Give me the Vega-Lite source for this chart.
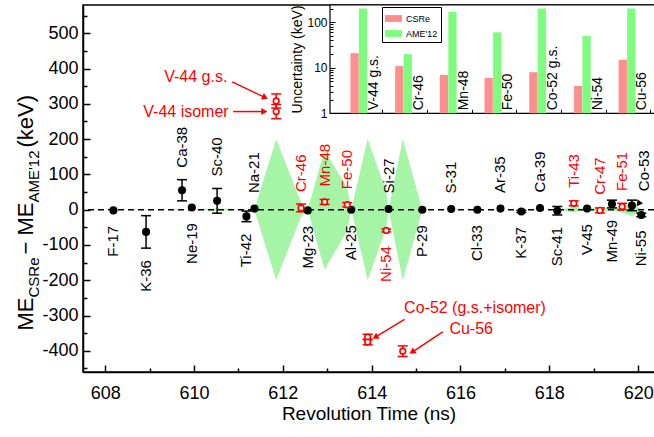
{
  "$schema": "https://vega.github.io/schema/vega-lite/v6.json",
  "width": 571,
  "height": 367,
  "autosize": {"type": "none"},
  "padding": {"left": 83, "top": 5, "right": 0, "bottom": 65},
  "background": "white",
  "config": {
    "font": "Liberation Sans",
    "view": {"stroke": null},
    "axis": {"labelFont": "Liberation Sans", "titleFont": "Liberation Sans", "labelColor": "black", "titleColor": "black", "domainColor": "black", "tickColor": "black", "grid": false, "titleFontWeight": "normal"}
  },
  "datasets": {
    "pts": [
      {"name": "F-17", "t": 608.185, "d": -2, "e": 0, "src": "old", "side": "below"},
      {"name": "K-36", "t": 608.92, "d": -63, "e": 46, "src": "old", "side": "below"},
      {"name": "Ca-38", "t": 609.73, "d": 55, "e": 30, "src": "old", "side": "above"},
      {"name": "Ne-19", "t": 609.95, "d": 6, "e": 0, "src": "old", "side": "below"},
      {"name": "Sc-40", "t": 610.52, "d": 25, "e": 35, "src": "old", "side": "above"},
      {"name": "Ti-42", "t": 611.18, "d": -19, "e": 15, "src": "old", "side": "below"},
      {"name": "Na-21", "t": 611.36, "d": 3, "e": 0, "src": "old", "side": "above"},
      {"name": "V-44 g.s.", "t": 611.85, "d": 308, "e": 20, "src": "new", "side": "none"},
      {"name": "V-44 isomer", "t": 611.85, "d": 278, "e": 20, "src": "new", "side": "none"},
      {"name": "Cr-46", "t": 612.41, "d": 5, "e": 11, "src": "new", "side": "above"},
      {"name": "Mg-23", "t": 612.56, "d": -2, "e": 0, "src": "old", "side": "below"},
      {"name": "Mn-48", "t": 612.94, "d": 22, "e": 7, "src": "new", "side": "above"},
      {"name": "Fe-50", "t": 613.45, "d": 14, "e": 6, "src": "new", "side": "above"},
      {"name": "Al-25", "t": 613.54, "d": 0, "e": 0, "src": "old", "side": "below"},
      {"name": "Co-52 g.s.", "t": 613.91, "d": -361, "e": 8, "src": "new", "side": "none"},
      {"name": "Co-52 isomer", "t": 613.91, "d": -375, "e": 8, "src": "new", "side": "none"},
      {"name": "Ni-54", "t": 614.33, "d": -59, "e": 4, "src": "new", "side": "below"},
      {"name": "Si-27", "t": 614.38, "d": 2, "e": 0, "src": "old", "side": "above"},
      {"name": "Cu-56", "t": 614.70, "d": -401, "e": 15, "src": "new", "side": "none"},
      {"name": "P-29", "t": 615.14, "d": 0, "e": 0, "src": "old", "side": "below"},
      {"name": "S-31", "t": 615.79, "d": 2, "e": 0, "src": "old", "side": "above"},
      {"name": "Cl-33", "t": 616.38, "d": 0, "e": 0, "src": "old", "side": "below"},
      {"name": "Ar-35", "t": 616.90, "d": 3, "e": 0, "src": "old", "side": "above"},
      {"name": "K-37", "t": 617.37, "d": -5, "e": 3, "src": "old", "side": "below"},
      {"name": "Ca-39", "t": 617.79, "d": 5, "e": 0, "src": "old", "side": "above"},
      {"name": "Sc-41", "t": 618.18, "d": -3, "e": 12, "src": "old", "side": "below"},
      {"name": "Ti-43", "t": 618.55, "d": 18, "e": 7, "src": "new", "side": "above"},
      {"name": "V-45", "t": 618.85, "d": 3, "e": 0, "src": "old", "side": "below"},
      {"name": "Cr-47", "t": 619.14, "d": -2, "e": 7, "src": "new", "side": "above"},
      {"name": "Mn-49", "t": 619.41, "d": 16, "e": 11, "src": "old", "side": "below"},
      {"name": "Fe-51", "t": 619.64, "d": 9, "e": 9, "src": "new", "side": "above"},
      {"name": "Co-53", "t": 619.86, "d": 12, "e": 15, "src": "old", "side": "right"},
      {"name": "Ni-55", "t": 620.07, "d": -15, "e": 5, "src": "old", "side": "below"}
    ],
    "ame": [
      {"name": "F-17", "t": 608.185, "s": 0.3},
      {"name": "K-36", "t": 608.92, "s": 0.4},
      {"name": "Ca-38", "t": 609.73, "s": 0.2},
      {"name": "Ne-19", "t": 609.95, "s": 0.2},
      {"name": "Sc-40", "t": 610.52, "s": 3},
      {"name": "Ti-42", "t": 611.18, "s": 0.3},
      {"name": "Na-21", "t": 611.36, "s": 0.3},
      {"name": "V-44", "t": 611.85, "s": 200},
      {"name": "Cr-46", "t": 612.41, "s": 20},
      {"name": "Mg-23", "t": 612.56, "s": 0.1},
      {"name": "Mn-48", "t": 612.94, "s": 170},
      {"name": "Fe-50", "t": 613.45, "s": 60},
      {"name": "Al-25", "t": 613.54, "s": 0.1},
      {"name": "Co-52", "t": 613.91, "s": 200},
      {"name": "Ni-54", "t": 614.33, "s": 50},
      {"name": "Si-27", "t": 614.38, "s": 0.1},
      {"name": "Cu-56", "t": 614.70, "s": 200},
      {"name": "P-29", "t": 615.14, "s": 0.4},
      {"name": "S-31", "t": 615.79, "s": 0.2},
      {"name": "Cl-33", "t": 616.38, "s": 0.4},
      {"name": "Ar-35", "t": 616.90, "s": 0.1},
      {"name": "K-37", "t": 617.37, "s": 0.1},
      {"name": "Ca-39", "t": 617.79, "s": 0.2},
      {"name": "Sc-41", "t": 618.18, "s": 0.1},
      {"name": "Ti-43", "t": 618.55, "s": 7},
      {"name": "V-45", "t": 618.85, "s": 1},
      {"name": "Cr-47", "t": 619.14, "s": 7},
      {"name": "Mn-49", "t": 619.41, "s": 2.4},
      {"name": "Fe-51", "t": 619.64, "s": 9},
      {"name": "Co-53", "t": 619.86, "s": 18},
      {"name": "Ni-55", "t": 620.07, "s": 0.7}
    ],
    "notes": [
      {"note": "V-44 g.s.", "x": 610.75, "y": 376},
      {"note": "V-44 isomer", "x": 610.78, "y": 278},
      {"note": "Co-52 (g.s.+isomer)", "x": 614.73, "y": -279},
      {"note": "Cu-56", "x": 615.75, "y": -339}
    ],
    "arrows": [
      {"id": "gs", "x": 610.86, "y": 362, "x2": 611.58, "y2": 319},
      {"id": "iso", "x": 610.88, "y": 278, "x2": 611.56, "y2": 278},
      {"id": "co52", "x": 614.74, "y": -311, "x2": 614.10, "y2": -360},
      {"id": "cu56", "x": 615.60, "y": -346, "x2": 614.93, "y2": -402},
      {"id": "co53", "x": 620.16, "y": 42, "x2": 620.02, "y2": 19}
    ],
    "unc": [
      {"nuc": "V-44 g.s.", "i": 0, "src": "CSRe", "v": 21},
      {"nuc": "V-44 g.s.", "i": 0, "src": "AME'12", "v": 200},
      {"nuc": "Cr-46", "i": 1, "src": "CSRe", "v": 11},
      {"nuc": "Cr-46", "i": 1, "src": "AME'12", "v": 20},
      {"nuc": "Mn-48", "i": 2, "src": "CSRe", "v": 7},
      {"nuc": "Mn-48", "i": 2, "src": "AME'12", "v": 170},
      {"nuc": "Fe-50", "i": 3, "src": "CSRe", "v": 6},
      {"nuc": "Fe-50", "i": 3, "src": "AME'12", "v": 60},
      {"nuc": "Co-52 g.s.", "i": 4, "src": "CSRe", "v": 8},
      {"nuc": "Co-52 g.s.", "i": 4, "src": "AME'12", "v": 200},
      {"nuc": "Ni-54", "i": 5, "src": "CSRe", "v": 4},
      {"nuc": "Ni-54", "i": 5, "src": "AME'12", "v": 50},
      {"nuc": "Cu-56", "i": 6, "src": "CSRe", "v": 15},
      {"nuc": "Cu-56", "i": 6, "src": "AME'12", "v": 200}
    ]
  },
  "layer": [
    {
      "layer": [
        {
          "data": {"name": "ame"},
          "transform": [{"calculate": "-datum.s", "as": "lo"}],
          "mark": {"type": "area", "color": "#a6f5a6", "opacity": 1},
          "encoding": {
            "x": {"field": "t", "type": "quantitative", "scale": {"domain": [607.5, 620.357], "nice": false, "zero": false},
              "axis": {"orient": "bottom", "title": "Revolution Time (ns)", "values": [608, 609, 610, 611, 612, 613, 614, 615, 616, 617, 618, 619, 620],
                "labelExpr": "datum.value % 2 === 0 ? datum.label : ''",
                "tickSize": {"condition": {"test": "datum.value % 2 === 0", "value": -7}, "value": -4},
                "tickWidth": 1.5, "domainWidth": 1.5, "labelFontSize": 18, "labelPadding": 19, "labelFlush": false, "labelOverlap": false,
                "titleFontSize": 19, "titleY": 47, "titleBaseline": "alphabetic"}},
            "y": {"field": "lo", "type": "quantitative", "scale": {"domain": [-460, 580], "nice": false, "zero": false},
              "axis": {"orient": "left", "values": [-450, -400, -350, -300, -250, -200, -150, -100, -50, 0, 50, 100, 150, 200, 250, 300, 350, 400, 450, 500, 550],
                "labelExpr": "datum.value % 100 === 0 ? '' + datum.value : ''",
                "tickSize": {"condition": {"test": "datum.value % 100 === 0", "value": -7}, "value": -4},
                "tickWidth": 1.5, "domainWidth": 1.5, "labelFontSize": 18, "labelPadding": 12, "labelFlush": false, "labelOverlap": false,
                "title": "ME", "titleFontSize": 22, "titleX": -51, "titleY": 325, "titleAngle": 270, "titleAlign": "left", "titleBaseline": "alphabetic"}},
            "y2": {"field": "s"}
          }
        },
        {
          "data": {"values": [{}]},
          "mark": {"type": "rect", "fill": null, "fillOpacity": 0, "stroke": "black", "strokeWidth": 1.5},
          "encoding": {
            "x": {"datum": 607.5, "type": "quantitative"},
            "x2": {"datum": 621},
            "y": {"datum": -460, "type": "quantitative", "axis": null},
            "y2": {"datum": 580}
          }
        },
        {
          "data": {"values": [{}]},
          "mark": {"type": "rule", "strokeDash": [6, 4], "strokeWidth": 1.5, "color": "black"},
          "encoding": {"y": {"datum": 0, "type": "quantitative", "axis": null}}
        },
        {
          "data": {"name": "pts"},
          "transform": [{"filter": "datum.e > 0"}, {"calculate": "datum.d - datum.e", "as": "lo"}, {"calculate": "datum.d + datum.e", "as": "hi"}],
          "mark": {"type": "rule", "strokeWidth": 1.5},
          "encoding": {
            "x": {"field": "t", "type": "quantitative"},
            "y": {"field": "lo", "type": "quantitative",
              "axis": {"orient": "left", "domain": false, "ticks": false, "labels": false, "title": "CSRe", "titleFontSize": 15, "titleX": -45, "titleY": 292, "titleAngle": 270, "titleAlign": "left", "titleBaseline": "alphabetic"}},
            "y2": {"field": "hi"},
            "color": {"condition": {"test": "datum.src === 'new'", "value": "#ff0000"}, "value": "black"}
          }
        },
        {
          "data": {"name": "pts"},
          "transform": [{"filter": "datum.e > 0"}, {"calculate": "datum.d - datum.e", "as": "lo"}, {"calculate": "datum.d + datum.e", "as": "hi"}, {"fold": ["lo", "hi"], "as": ["k", "yy"]}],
          "mark": {"type": "point", "shape": "stroke", "size": 100, "strokeWidth": 1.5, "filled": false, "opacity": 1},
          "encoding": {
            "x": {"field": "t", "type": "quantitative"},
            "y": {"field": "yy", "type": "quantitative", "axis": null},
            "color": {"condition": {"test": "datum.src === 'new'", "value": "#ff0000"}, "value": "black"}
          }
        },
        {
          "data": {"name": "pts"},
          "transform": [{"filter": "datum.src === 'old'"}],
          "mark": {"type": "point", "shape": "circle", "filled": true, "size": 65, "color": "black", "opacity": 1},
          "encoding": {
            "x": {"field": "t", "type": "quantitative"},
            "y": {"field": "d", "type": "quantitative",
              "axis": {"orient": "left", "domain": false, "ticks": false, "labels": false, "title": "− ME", "titleFontSize": 22, "titleX": -51, "titleY": 249, "titleAngle": 270, "titleAlign": "left", "titleBaseline": "alphabetic"}}
          }
        },
        {
          "data": {"name": "pts"},
          "transform": [{"filter": "datum.src === 'new'"}],
          "mark": {"type": "point", "shape": "circle", "filled": true, "fill": "white", "stroke": "#ff0000", "strokeWidth": 1.6, "size": 32, "opacity": 1},
          "encoding": {
            "x": {"field": "t", "type": "quantitative"},
            "y": {"field": "d", "type": "quantitative",
              "axis": {"orient": "left", "domain": false, "ticks": false, "labels": false, "title": "AME'12", "titleFontSize": 15, "titleX": -45, "titleY": 197, "titleAngle": 270, "titleAlign": "left", "titleBaseline": "alphabetic"}}
          }
        },
        {
          "data": {"name": "pts"},
          "transform": [{"filter": "datum.side === 'above'"}, {"calculate": "datum.d + max(datum.e, 10)", "as": "hi"}],
          "mark": {"type": "text", "angle": 270, "align": "left", "baseline": "middle", "dx": 12, "fontSize": 15, "font": "Liberation Sans"},
          "encoding": {
            "x": {"field": "t", "type": "quantitative"},
            "y": {"field": "hi", "type": "quantitative", "axis": null},
            "text": {"field": "name"},
            "color": {"condition": {"test": "datum.src === 'new'", "value": "#ff0000"}, "value": "black"}
          }
        },
        {
          "data": {"name": "pts"},
          "transform": [{"filter": "datum.side === 'below'"}, {"calculate": "datum.d - max(datum.e, 10)", "as": "lo"}],
          "mark": {"type": "text", "angle": 270, "align": "right", "baseline": "middle", "dx": -12, "fontSize": 15, "font": "Liberation Sans"},
          "encoding": {
            "x": {"field": "t", "type": "quantitative"},
            "y": {"field": "lo", "type": "quantitative", "axis": null},
            "text": {"field": "name"},
            "color": {"condition": {"test": "datum.src === 'new'", "value": "#ff0000"}, "value": "black"}
          }
        },
        {
          "data": {"name": "pts"},
          "transform": [{"filter": "datum.side === 'right'"}, {"calculate": "datum.d + datum.e", "as": "hi"}],
          "mark": {"type": "text", "angle": 270, "align": "left", "baseline": "middle", "dx": 9, "dy": 12, "fontSize": 15, "font": "Liberation Sans", "color": "black"},
          "encoding": {
            "x": {"field": "t", "type": "quantitative"},
            "y": {"field": "hi", "type": "quantitative", "axis": null},
            "text": {"field": "name"}
          }
        },
        {
          "data": {"name": "notes"},
          "transform": [{"filter": "indexof(datum.note, 'V-44') === 0"}],
          "mark": {"type": "text", "align": "right", "baseline": "middle", "fontSize": 16, "font": "Liberation Sans", "color": "#ff0000"},
          "encoding": {
            "x": {"field": "x", "type": "quantitative"},
            "y": {"field": "y", "type": "quantitative", "axis": null},
            "text": {"field": "note"}
          }
        },
        {
          "data": {"name": "notes"},
          "transform": [{"filter": "indexof(datum.note, 'V-44') !== 0"}],
          "mark": {"type": "text", "align": "left", "baseline": "middle", "fontSize": 16, "font": "Liberation Sans", "color": "#ff0000"},
          "encoding": {
            "x": {"field": "x", "type": "quantitative"},
            "y": {"field": "y", "type": "quantitative", "axis": null},
            "text": {"field": "note"}
          }
        },
        {
          "data": {"name": "arrows"},
          "transform": [{"filter": "datum.id !== 'co53'"}],
          "mark": {"type": "rule", "strokeWidth": 1.5, "color": "#ff0000"},
          "encoding": {
            "x": {"field": "x", "type": "quantitative"},
            "y": {"field": "y", "type": "quantitative",
              "axis": {"orient": "left", "domain": false, "ticks": false, "labels": false, "title": "(keV)", "titleFontSize": 22, "titleX": -51, "titleY": 142, "titleAngle": 270, "titleAlign": "left", "titleBaseline": "alphabetic"}},
            "x2": {"field": "x2"},
            "y2": {"field": "y2"}
          }
        },
        {
          "data": {"name": "arrows"},
          "mark": {"type": "point", "shape": "triangle", "filled": true, "size": 50, "opacity": 1},
          "encoding": {
            "x": {"field": "x2", "type": "quantitative"},
            "y": {"field": "y2", "type": "quantitative", "axis": null},
            "angle": {"condition": [{"test": "datum.id === 'gs'", "value": 115}, {"test": "datum.id === 'iso'", "value": 90}, {"test": "datum.id === 'co52'", "value": 239}, {"test": "datum.id === 'cu56'", "value": 236}], "value": 217},
            "color": {"condition": {"test": "datum.id === 'co53'", "value": "black"}, "value": "#ff0000"}
          }
        }
      ],
      "resolve": {"axis": {"y": "independent"}}
    },
    {
      "layer": [
        {
          "data": {"values": [{}]},
          "mark": {"type": "rect", "fill": "white", "stroke": "black", "strokeWidth": 1.2},
          "encoding": {
            "x": {"datum": -0.637, "type": "quantitative", "scale": {"domain": [-6.163, 6.611], "nice": false, "zero": false},
              "axis": {"orient": "bottom", "offset": -258.7, "values": [0.53, 1.53, 2.53, 3.53, 4.53, 5.53, 6.53], "labels": false, "domain": false, "tickSize": -4, "tickWidth": 1, "title": null, "zindex": 1}},
            "x2": {"datum": 6.9},
            "y": {"datum": 1, "type": "quantitative", "scale": {"type": "log", "domain": [0.00000206, 240], "nice": false},
              "axis": {"orient": "left", "offset": -247, "values": [1, 2, 3, 4, 5, 6, 7, 8, 9, 10, 20, 30, 40, 50, 60, 70, 80, 90, 100, 200],
                "labelExpr": "datum.value === 1 || datum.value === 10 || datum.value === 100 ? datum.label : ''",
                "tickSize": {"condition": {"test": "datum.value === 1 || datum.value === 10 || datum.value === 100", "value": -5}, "value": -3},
                "tickWidth": 1, "domain": false, "labelFontSize": 12, "labelPadding": 8, "labelFlush": false, "labelOverlap": false, "zindex": 1,
                "title": "Uncertainty (keV)", "titleFontSize": 14, "titleX": -33, "titleY": 54, "titleAngle": 270, "titleAlign": "center", "titleBaseline": "middle"}},
            "y2": {"datum": 240}
          }
        },
        {
          "data": {"name": "unc"},
          "transform": [{"calculate": "datum.i + (datum.src === 'CSRe' ? -0.18 : 0.01)", "as": "xa"}, {"calculate": "datum.xa + 0.185", "as": "xb"}],
          "mark": {"type": "rect"},
          "encoding": {
            "x": {"field": "xa", "type": "quantitative"},
            "x2": {"field": "xb"},
            "y": {"field": "v", "type": "quantitative"},
            "y2": {"datum": 1},
            "color": {"field": "src", "type": "nominal", "scale": {"domain": ["CSRe", "AME'12"], "range": ["#ff8e8e", "#7dfc7d"]},
              "legend": {"orient": "none", "legendX": 299, "legendY": 2, "title": null, "strokeColor": "black", "fillColor": "white", "padding": 3,
                "symbolType": "M-1,-0.4H1V0.4H-1Z", "symbolSize": 289, "symbolStrokeWidth": 0, "labelFontSize": 9, "labelFont": "Liberation Sans", "rowPadding": 1, "symbolOpacity": 1}}
          }
        },
        {
          "data": {"name": "unc"},
          "transform": [{"filter": "datum.src === 'CSRe'"}, {"calculate": "datum.i + 0.35", "as": "xl"}],
          "mark": {"type": "text", "angle": 270, "align": "left", "baseline": "middle", "dx": 3, "fontSize": 14, "font": "Liberation Sans", "color": "black"},
          "encoding": {
            "x": {"field": "xl", "type": "quantitative"},
            "y": {"datum": 1, "type": "quantitative"},
            "text": {"field": "nuc"}
          }
        }
      ]
    }
  ],
  "resolve": {"scale": {"x": "independent", "y": "independent"}}
}
